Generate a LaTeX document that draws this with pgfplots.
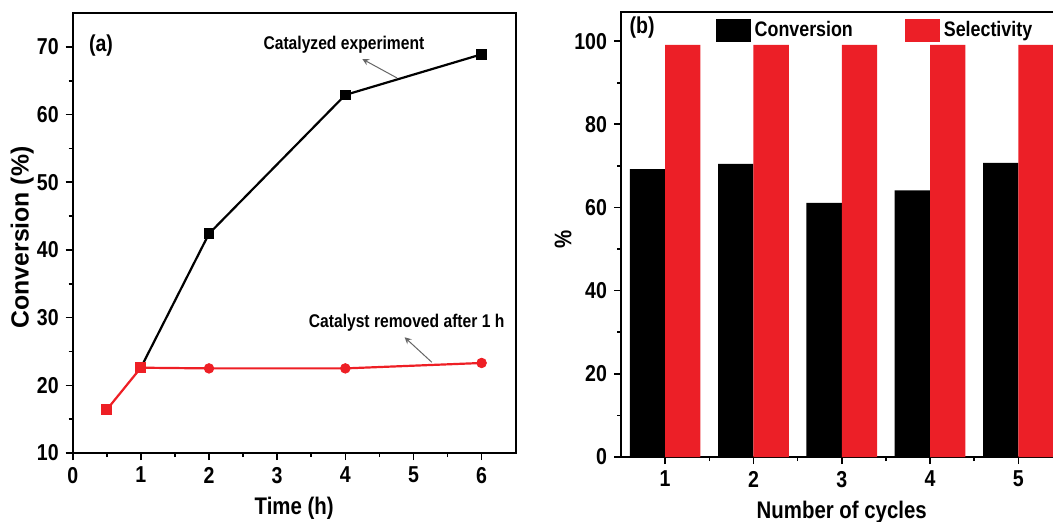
\documentclass[border=0pt]{standalone}
\usepackage{fontspec}
\setmainfont{Liberation Sans}[FakeStretch=0.85]
\newfontfamily\widesans{Liberation Sans}
\usepackage{pgfplots}
\pgfplotsset{compat=1.18}

\definecolor{rline}{HTML}{EE1F25}
\definecolor{rbar}{HTML}{EC1F27}

\pgfplotsset{
  panel/.style={
    scale only axis,
    axis line style={line width=1.1pt},
    tick style={line width=0.8pt, black},
    tick align=outside,
    tick pos=left,
    major tick length=3.5pt,
    minor tick length=2pt,
    /pgf/number format/assume math mode=true,
    tick label style={font=\bfseries\fontsize{11.5}{13}\selectfont},
    label style={font=\bfseries\fontsize{12}{14}\selectfont},
  },
}

\begin{document}
\begin{tikzpicture}
\useasboundingbox (0,0) rectangle (526.5pt,260.5pt);
\clip (0,0) rectangle (526.5pt,260.5pt);

% (a) conversion versus time
\begin{axis}[panel,
  at={(36.35pt,34pt)}, anchor=south west,
  width=221.5pt, height=220pt,
  xmin=0, xmax=6.5, ymin=10, ymax=75,
  xtick={0,1,...,6}, ytick={10,20,...,70},
  minor x tick num=1, minor y tick num=1,
  xlabel={Time (h)}, ylabel={Conversion (\%)},
  ylabel style={at={(axis description cs:-0.114,0.49)}, anchor=center,
    font=\widesans\bfseries\fontsize{12.4}{15}\selectfont},
  clip=false,
]
% catalyzed run
\addplot[black, line width=1.1pt, mark=square*, mark size=2.4pt,
  mark options={line width=0.4pt}, mark indices={2,3,4}]
  coordinates {(1,22.6) (2,42.4) (4,62.9) (6,68.9)};
% catalyst filtered off after 1 h
\addplot[rline, line width=1.1pt, no marks]
  coordinates {(0.5,16.4) (1,22.6) (2,22.5) (4,22.5) (6,23.3)};
\addplot[rline, only marks, mark=square*, mark size=2.5pt, mark options={line width=0.4pt}]
  coordinates {(0.5,16.4) (1,22.6)};
\addplot[rline, only marks, mark=*, mark size=2.4pt, mark options={line width=0.4pt}]
  coordinates {(2,22.5) (4,22.5) (6,23.3)};
\node[font=\bfseries\fontsize{11.5}{13}\selectfont] at (rel axis cs:0.064,0.925) {(a)};
\node[font=\bfseries\fontsize{9.2}{11}\selectfont] at (axis cs:3.98,70.3) {Catalyzed experiment};
\draw[gray!80!black, line width=0.5pt, -stealth] (axis cs:4.76,65.4) -- (axis cs:4.25,68.2);
\node[font=\bfseries\fontsize{9.2}{11}\selectfont] at (axis cs:4.9,29.2) {Catalyst removed after 1 h};
\draw[gray!80!black, line width=0.5pt, -stealth] (axis cs:5.27,23.4) -- (axis cs:4.87,27.1);
\end{axis}

% (b) recycling runs
\begin{axis}[panel,
  at={(310.5pt,32pt)}, anchor=south west,
  width=220.75pt, height=222.5pt,
  xmin=0.5, xmax=5.5, ymin=0, ymax=107,
  xtick={1,2,3,4,5}, ytick={0,20,...,100},
  minor x tick num=1, minor y tick num=1,
  xlabel={Number of cycles}, ylabel={\%},
  ylabel style={at={(axis description cs:-0.131,0.49)}, anchor=center},
  ybar, bar width=0.4,
  legend columns=2,
  legend style={draw=none, fill=none, at={(rel axis cs:0.20,0.998)}, anchor=north west,
    font=\bfseries\fontsize{10.5}{12}\selectfont,
    /tikz/every even column/.append style={column sep=24pt}},
  legend image code/.code={\fill[#1] (0pt,-5.75pt) rectangle (17.5pt,5.75pt);},
  clip=false,
]
\addplot[fill=black, draw=none, bar shift=-0.2]
  coordinates {(1,69.2) (2,70.5) (3,61.1) (4,64.1) (5,70.7)};
\addplot[fill=rbar, draw=none, bar shift=0.2]
  coordinates {(1,99.1) (2,99.1) (3,99.1) (4,99.1) (5,99.1)};
\legend{Conversion, Selectivity}
\node[font=\bfseries\fontsize{11.5}{13}\selectfont] at (rel axis cs:0.048,0.964) {(b)};
\end{axis}
\end{tikzpicture}
\end{document}
